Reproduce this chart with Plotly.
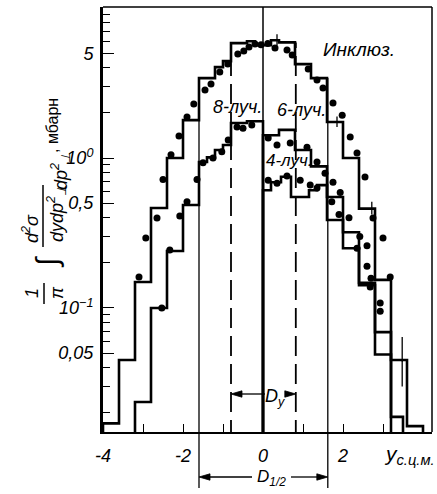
import plotly.graph_objects as go

# ---------------- data ----------------
# inclusive histogram: bin edges and values (mb)
incl_edges = [-4.0, -3.6, -3.2, -2.8, -2.4, -2.0, -1.6, -1.2, -1.0, -0.8, -0.4, -0.2,
              0.0, 0.2, 0.4, 0.8, 1.2, 1.6, 2.0, 2.4, 2.8, 3.2, 3.6, 4.0]
incl_vals = [0.017, 0.045, 0.149, 0.464, 1.0, 1.79, 3.41, 4.04, 4.43, 5.84, 6.0, 5.66,
             5.66, 6.1, 5.9, 4.23, 3.41, 1.74, 1.0, 0.46, 0.154, 0.045, 0.0163]

# 8-prong histogram (left half)
p8_edges = [-3.2, -2.8, -2.4, -2.0, -1.6, -1.4, -1.2, -1.0, -0.8, -0.4, 0.0]
p8_vals = [0.0236, 0.1, 0.24, 0.486, 0.94, 1.01, 1.13, 1.22, 1.71, 1.76]

# 6-prong histogram (right half)
p6_edges = [0.0, 0.4, 0.8, 1.2, 1.6, 2.0, 2.4, 2.8, 3.2, 3.5]
p6_vals = [1.42, 1.54, 1.13, 0.88, 0.55, 0.32, 0.147, 0.069, 0.0188]

# 4-prong histogram (right half)
p4_edges = [0.0, 0.2, 0.45, 0.7, 1.15, 1.35, 1.6, 2.0, 2.4, 2.8, 3.2]
p4_vals = [0.61, 0.69, 0.75, 0.55, 0.61, 0.66, 0.386, 0.25, 0.142, 0.049]

# points (calculation)
incl_dot_x = [-3.1, -2.93, -2.65, -2.5, -2.3, -2.1, -1.9, -1.73, -1.45, -1.3, -1.08, -0.88,
              -0.63, -0.48, -0.35, -0.2, -0.05, 0.12, 0.3, 0.6, 0.73, 1.13, 1.35, 1.5, 1.75,
              1.98, 2.18, 2.35, 2.55, 2.75, 3.0, 3.18]
incl_dot_y = [0.161, 0.293, 0.398, 0.72, 1.05, 1.4, 1.88, 2.29, 2.84, 3.12, 3.74, 4.23,
              4.94, 5.17, 5.5, 5.75, 5.7, 5.8, 5.41, 5.25, 4.86, 3.92, 3.31, 2.93, 2.33,
              1.93, 1.38, 1.08, 0.747, 0.398, 0.293, 0.161]
p8_dot_x = [-2.53, -2.33, -2.08, -1.9, -1.65, -1.5, -1.25, -1.03, -0.87, -0.65, -0.5, -0.28]
p8_dot_y = [0.1, 0.244, 0.41, 0.51, 0.72, 0.93, 1.0, 1.1, 1.32, 1.61, 1.58, 1.66]
p6_dot_x = [0.13, 0.35, 0.68, 1.1, 1.35, 1.55, 1.75, 1.93, 2.15, 2.42, 2.6, 2.7, 2.93]
p6_dot_y = [1.36, 1.22, 1.26, 1.18, 0.94, 0.79, 0.69, 0.59, 0.40, 0.30, 0.26, 0.158, 0.108]
p4_dot_x = [0.13, 0.35, 0.6, 0.93, 1.18, 1.35, 1.72, 1.9, 2.35, 2.6, 2.68, 2.93]
p4_dot_y = [0.71, 0.68, 0.76, 0.71, 0.66, 0.63, 0.51, 0.42, 0.25, 0.19, 0.138, 0.095]

# error bars
err_x = [0.35, 1.85, 2.72, 3.48]
err_y = [6.1, 1.74, 0.46, 0.044]
err_plus = [0.6, 0.15, 0.05, 0.02]
err_minus = [0.5, 0.13, 0.04, 0.014]

# marked intervals
dy_bounds = [-0.8, 0.82]
dy_tops = [5.84, 5.9]
d12_bounds = [-1.6, 1.62]
d12_tops = [3.41, 3.41]

x_ticks = [-4, -2, 0, 2]
x_ticktext = ["-4", "-2", "0", "2"]
x_minor = [-3, -1, 1, 3]
y_ticks = [0.05, 0.1, 0.5, 1, 5]
y_ticktext = ["0,05", "10<sup>−1</sup>", "0,5", "10<sup>0</sup>", "5"]
y_minor = [0.02, 0.03, 0.04, 0.06, 0.07, 0.08, 0.09, 0.2, 0.3, 0.4, 0.6, 0.7, 0.8, 0.9,
           2, 3, 4, 6, 7, 8, 9]

# ---------------- figure ----------------
FONT = "Liberation Sans"
FLOOR = 1e-3
TOP = 100.0
W, H = 437, 494
ML, MR, MT, MB = 103, 5, 7, 62
PW, PH = W - ML - MR, H - MT - MB
XMIN, XMAX = -4.0, 4.225


def px2x(px):
    return (px - ML) / PW


def py2y(py):
    return (H - MB - py) / PH


def dx2p(x):
    return (x - XMIN) / (XMAX - XMIN)


def step(edges, vals):
    xs = [edges[0]] + edges[:-1] + [edges[-1], edges[-1]]
    ys = [FLOOR] + vals + [vals[-1], FLOOR]
    return xs, ys


fig = go.Figure()

# reference vertical lines
fig.add_trace(go.Scatter(x=[0, 0], y=[FLOOR, TOP], mode="lines",
                         line=dict(color="black", width=1.5), hoverinfo="skip"))
for xb, yt in zip(dy_bounds, dy_tops):
    fig.add_trace(go.Scatter(x=[xb, xb], y=[FLOOR, yt], mode="lines",
                             line=dict(color="black", width=1.8, dash="20px,8px"), hoverinfo="skip"))
for xb, yt in zip(d12_bounds, d12_tops):
    fig.add_trace(go.Scatter(x=[xb, xb], y=[FLOOR, yt], mode="lines",
                             line=dict(color="black", width=1.3), hoverinfo="skip"))

# histograms
for e, v in [(incl_edges, incl_vals), (p8_edges, p8_vals), (p6_edges, p6_vals), (p4_edges, p4_vals)]:
    xs, ys = step(e, v)
    fig.add_trace(go.Scatter(x=xs, y=ys, mode="lines", line=dict(color="black", width=2.6, shape="hv"),
                             hoverinfo="skip"))

# dots
for dx, dyv in [(incl_dot_x, incl_dot_y), (p8_dot_x, p8_dot_y), (p6_dot_x, p6_dot_y), (p4_dot_x, p4_dot_y)]:
    fig.add_trace(go.Scatter(x=dx, y=dyv, mode="markers", marker=dict(color="black", size=7)))

# error bars
fig.add_trace(go.Scatter(x=err_x, y=err_y, mode="markers", marker=dict(size=1, color="black"),
                         error_y=dict(type="data", symmetric=False, array=err_plus, arrayminus=err_minus,
                                      color="black", thickness=1.3, width=0)))


def ann(text, px, py, size=16, angle=0, italic=True, xanchor="center"):
    return dict(x=px2x(px), y=py2y(py), xref="paper", yref="paper", text=text, showarrow=False,
                textangle=angle, xanchor=xanchor, yanchor="middle",
                font=dict(size=size, family=FONT, color="black", style="italic" if italic else "normal"))


annotations = [
    ann("Инклюз.", 359, 49, 19),
    ann("8-луч.", 237, 107, 18),
    ann("6-луч.", 301, 110, 18),
    ann("4-луч.", 289, 161, 17),
    ann("<i>D</i><sub><i>y</i></sub>", 275, 397, 18),
    ann("<i>D</i><sub>1/2</sub>", 271, 478, 17),
    ann("<i>y</i><sub>с.ц.м.</sub>", 382, 455, 21, xanchor="left"),
    # y-axis title pieces
    ann("1", 32, 293, 18, -90),
    ann("π", 57, 293, 18, -90),
    ann("∫", 47, 262, 30, -90),
    ann("<i>d</i><sup>2</sup><i>σ</i>", 30, 229, 18, -90),
    ann("<i>dydp</i><sup>2</sup><sub>⊥</sub>", 56, 214, 18, -90),
    ann("<i>dp</i><sup>2</sup><sub>⊥</sub>", 60, 171, 18, -90),
    ann(", мбарн", 52, 126, 16, -90, italic=False),
]

shapes = [
    # top and right frame
    dict(type="line", xref="paper", yref="paper", x0=0, x1=1, y0=1, y1=1, line=dict(color="black", width=1.5)),
    dict(type="line", xref="paper", yref="paper", x0=1, x1=1, y0=0, y1=1, line=dict(color="black", width=1.5)),
    # fraction bars of the y title
    dict(type="line", xref="paper", yref="paper", x0=px2x(44), x1=px2x(44), y0=py2y(283), y1=py2y(304),
         line=dict(color="black", width=1.5)),
    dict(type="line", xref="paper", yref="paper", x0=px2x(43), x1=px2x(43), y0=py2y(185), y1=py2y(247),
         line=dict(color="black", width=1.5)),
]
for xb in d12_bounds:
    shapes.append(dict(type="line", xref="paper", yref="paper", x0=dx2p(xb), x1=dx2p(xb), y0=0, y1=py2y(488),
                       line=dict(color="black", width=1.3)))

# double arrows (drawn as line + triangle heads)
HL, HW = 11 / PW, 3.2 / PH


def arrow(x_tail_px, x_head_data, py):
    yy = py2y(py)
    xt = px2x(x_tail_px)
    xh = dx2p(x_head_data)
    sgn = 1 if xt > xh else -1
    out = [dict(type="line", xref="paper", yref="paper", x0=xt, x1=xh + sgn * HL * 0.6, y0=yy, y1=yy,
                line=dict(color="black", width=1.3))]
    path = "M {:.5f},{:.5f} L {:.5f},{:.5f} L {:.5f},{:.5f} Z".format(
        xh, yy, xh + sgn * HL, yy + HW, xh + sgn * HL, yy - HW)
    out.append(dict(type="path", xref="paper", yref="paper", path=path, fillcolor="black",
                    line=dict(color="black", width=0.8)))
    return out


shapes += arrow(265, dy_bounds[0], 394)
shapes += arrow(286, dy_bounds[1], 394)
shapes += arrow(252, d12_bounds[0], 477)
shapes += arrow(291, d12_bounds[1], 477)

fig.update_layout(
    width=W, height=H, margin=dict(l=ML, r=MR, t=MT, b=MB),
    paper_bgcolor="white", plot_bgcolor="white", showlegend=False,
    annotations=annotations, shapes=shapes,
    font=dict(family=FONT, color="black"),
    xaxis=dict(range=[XMIN, XMAX], showgrid=False, zeroline=False, showline=True, linecolor="black",
               linewidth=2.2, ticks="inside", ticklen=8, tickwidth=1.4, tickcolor="black",
               tickmode="array", tickvals=x_ticks, ticktext=x_ticktext, ticklabelstandoff=6,
               tickfont=dict(size=18, family=FONT, style="italic", color="black"),
               minor=dict(tickmode="array", tickvals=x_minor, ticks="inside", ticklen=8, tickwidth=1.4,
                          tickcolor="black", showgrid=False)),
    yaxis=dict(type="log", range=[-1.827, 1.007], showgrid=False, zeroline=False, showline=True,
               linecolor="black", linewidth=3, ticks="inside", ticklen=11, tickwidth=1.4, tickcolor="black",
               tickmode="array", tickvals=y_ticks, ticktext=y_ticktext, ticklabelstandoff=3,
               tickfont=dict(size=18, family=FONT, style="italic", color="black"),
               minor=dict(tickmode="array", tickvals=y_minor, ticks="inside", ticklen=7, tickwidth=1.4,
                          tickcolor="black", showgrid=False)),
)

fig.write_html("out.html")
